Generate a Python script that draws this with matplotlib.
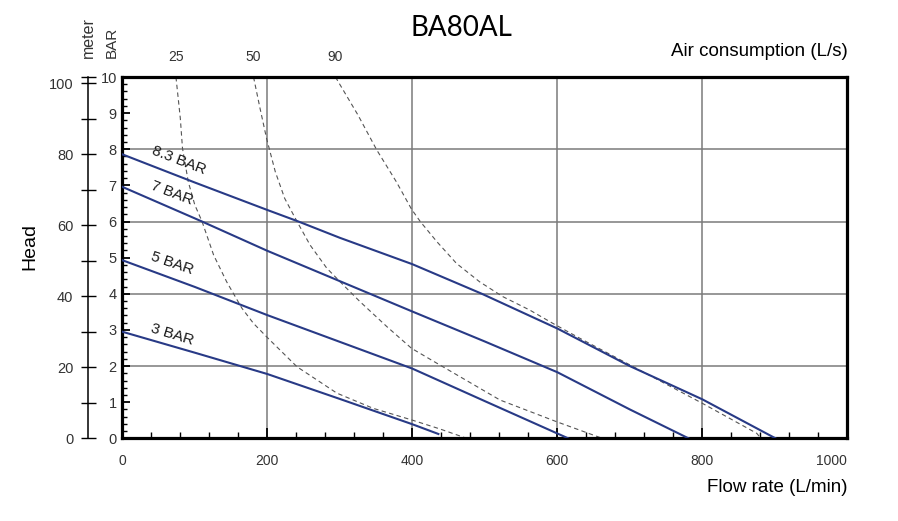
import matplotlib
matplotlib.use('Agg')
import matplotlib.pyplot as plt
from matplotlib.ticker import MultipleLocator, FixedLocator

plt.rcParams['font.family'] = ['Liberation Sans', 'DejaVu Sans']

# pump curves: flow (L/min) vs head (bar)
curve_labels = ['8.3 BAR', '7 BAR', '5 BAR', '3 BAR']
flow_83 = [0, 100, 200, 243, 300, 400, 496, 600, 700, 800, 901]
head_83 = [7.86, 7.08, 6.32, 6.0, 5.55, 4.82, 4.0, 3.04, 2.0, 1.08, 0]
flow_7 = [0, 110, 200, 300, 400, 500, 600, 700, 781]
head_7 = [6.96, 6.0, 5.19, 4.35, 3.51, 2.68, 1.83, 0.8, 0]
flow_5 = [0, 100, 200, 300, 400, 500, 615]
head_5 = [4.93, 4.19, 3.41, 2.67, 1.93, 1.03, 0]
flow_3 = [0, 100, 200, 300, 400, 436]
head_3 = [2.95, 2.37, 1.78, 1.09, 0.39, 0.12]

# air consumption curves (L/s)
air_labels = ['25', '50', '90']
air_flow_25 = [74, 80, 83, 91, 100, 110, 126, 144, 165, 181, 201, 241, 296, 346, 399, 438, 475]
air_head_25 = [10, 8.86, 8.03, 7.1, 6.46, 6.0, 5.07, 4.33, 3.6, 3.18, 2.77, 1.98, 1.25, 0.83,
               0.51, 0.26, 0]
air_flow_50 = [181, 190, 199, 211, 224, 241, 259, 282, 305, 328, 365, 399, 438, 521, 599, 662]
air_head_50 = [10, 9.13, 8.3, 7.38, 6.64, 6.0, 5.35, 4.71, 4.24, 3.78, 3.09, 2.49, 2.03, 1.06,
               0.46, 0]
air_flow_90 = [294, 325, 351, 378, 399, 411, 434, 461, 493, 525, 562, 594, 631, 705, 800, 875, 881]
air_head_90 = [10, 8.95, 7.98, 7.1, 6.34, 6.0, 5.44, 4.84, 4.33, 3.92, 3.55, 3.18, 2.77, 1.98,
               0.97, 0.14, 0]

x_ticks = [0, 200, 400, 600, 800, 1000]
bar_ticks = list(range(0, 11))
meter_ticks = [0, 20, 40, 60, 80, 100]
meter_minor = [10, 30, 50, 70, 90]
meter_top = 101.7  # 10 bar expressed in meters

curves = [(flow_83, head_83), (flow_7, head_7), (flow_5, head_5), (flow_3, head_3)]
air_curves = [(air_flow_25, air_head_25), (air_flow_50, air_head_50), (air_flow_90, air_head_90)]

BLUE = '#283a86'
GRID = '#7a7a7a'
TXT = '#333333'

fig = plt.figure(figsize=(8.98, 5.21), dpi=100)
ax = fig.add_axes([0.1362, 0.1587, 0.8073, 0.6935])
ax.set_xlim(0, 1000)
ax.set_ylim(0, 10)

for gx in (200, 400, 600, 800):
    ax.axvline(gx, color=GRID, lw=1.1, zorder=1)
for gy in (2, 4, 6, 8):
    ax.axhline(gy, color=GRID, lw=1.1, zorder=1)

for fx, hy in air_curves:
    ax.plot(fx, hy, color='#555555', lw=0.8, dashes=(4, 3), zorder=2, clip_on=False)
for fx, hy in curves:
    ax.plot(fx, hy, color=BLUE, lw=1.5, zorder=3)

# curve labels
label_pos = [(78, 7.7, -21), (68, 6.78, -21), (69, 4.84, -19), (69, 2.86, -17)]
for name, (lx, ly, rot) in zip(curve_labels, label_pos):
    ax.text(lx, ly, name, fontsize=11, color='#1a1a1a', rotation=rot,
            rotation_mode='anchor', ha='center', va='center', zorder=4)

# air consumption labels at the top of each dashed curve
for name, (fx, hy) in zip(air_labels, air_curves):
    ax.text(fx[0], 10.55, name, fontsize=10, color=TXT, ha='center', va='center',
            clip_on=False)

for s in ax.spines.values():
    s.set_linewidth(2.3)
    s.set_color('black')

ax.set_xticks(x_ticks)
ax.xaxis.set_minor_locator(MultipleLocator(40))
ax.set_yticks(bar_ticks)
ax.yaxis.set_minor_locator(MultipleLocator(0.2))
ax.tick_params(axis='x', which='major', direction='in', length=7, width=1.3,
               pad=11, labelsize=10, labelcolor=TXT)
ax.tick_params(axis='x', which='minor', direction='in', length=4.3, width=1)
ax.tick_params(axis='y', which='major', direction='in', length=5.5, width=1.3,
               pad=4, labelsize=10.5, labelcolor=TXT)
ax.tick_params(axis='y', which='minor', direction='in', length=3.6, width=1)
ax.get_xticklabels()[-1].set_horizontalalignment('right')

# meter scale on an offset left spine
ax2 = ax.twinx()
for k in ('top', 'bottom', 'right'):
    ax2.spines[k].set_visible(False)
ax2.spines['left'].set_visible(True)
ax2.spines['left'].set_position(('outward', 24.5))
ax2.spines['left'].set_linewidth(1.1)
ax2.yaxis.set_ticks_position('left')
ax2.set_ylim(0, meter_top)
ax2.set_yticks(meter_ticks)
ax2.yaxis.set_minor_locator(FixedLocator(meter_minor + [meter_top]))
ax2.tick_params(axis='y', which='both', direction='inout', length=10.8, width=1,
                pad=5.4, labelsize=10.5, labelcolor=TXT)

fig.text(461 / 898, 1 - 28 / 521, 'BA80AL', fontsize=20, family='Lato',
         ha='center', va='center')
fig.text(0.9435, 1 - 52 / 521, 'Air consumption (L/s)', fontsize=13.5,
         ha='right', va='center')
fig.text(0.9435, 1 - 488 / 521, 'Flow rate (L/min)', fontsize=13.5,
         ha='right', va='center')
fig.text(30 / 898, 1 - 246 / 521, 'Head', fontsize=14, rotation=90,
         ha='center', va='center')
fig.text(88 / 898, 1 - 58 / 521, 'meter', fontsize=11.5, color=TXT, rotation=90,
         ha='center', va='bottom')
fig.text(112 / 898, 1 - 58 / 521, 'BAR', fontsize=11, color=TXT, rotation=90,
         ha='center', va='bottom')

fig.savefig('out.png', dpi=100)
